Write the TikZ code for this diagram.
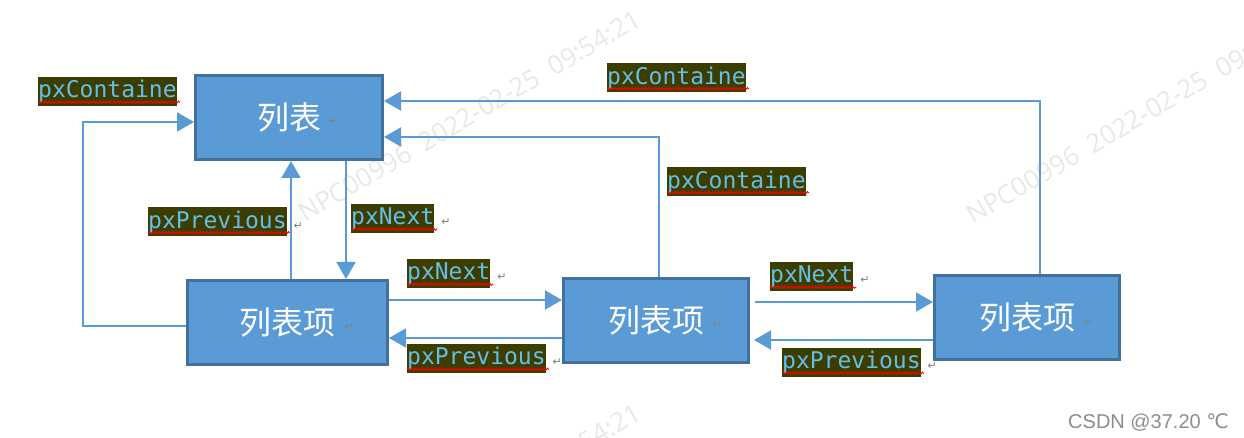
\documentclass[tikz,border=0pt]{standalone}
\usepackage{fontspec}
\usetikzlibrary{arrows.meta,positioning,decorations.pathmorphing}
\newfontfamily\monofnt{DejaVu Sans Mono}
\newfontfamily\cjkfnt{Noto Sans CJK SC}
\newfontfamily\wmfnt{Open Sans}
\newfontfamily\symfnt{DejaVu Sans}
\newfontfamily\csdnfnt{Liberation Sans}
\definecolor{boxfill}{HTML}{5B9BD5}
\definecolor{boxline}{HTML}{41719C}
\definecolor{tagbg}{HTML}{3E3D00}
\definecolor{tagfg}{HTML}{63BFEA}
\newcommand{\retmark}[2]{\rlap{\hspace{#1}\raisebox{#2}{\symfnt\fontsize{11}{11}\selectfont\color{gray}↵}}}

\begin{document}
\begin{tikzpicture}[
  x=1pt, y=-1pt,
  box/.style={draw=boxline, line width=3pt, fill=boxfill, text=white, inner sep=0pt,
              minimum height=84pt, font=\cjkfnt\fontsize{32}{32}\selectfont},
  tag/.style={fill=tagbg, text=tagfg, inner sep=0pt, minimum height=29pt, anchor=west,
              font=\monofnt\fontsize{23}{23}\selectfont},
  conn/.style={-{Triangle[length=17pt,width=19pt]}, draw=boxfill, line width=2pt},
  wavy/.style={draw=red, line width=0.9pt, decorate,
               decoration={snake, amplitude=1.1pt, segment length=3.4pt}},
  wm/.style={text=black!9, rotate=30.4, anchor=base west, inner sep=0pt,
             font=\wmfnt\fontsize{26}{26}\selectfont},
  csdn/.style={text=black!45, inner sep=0pt, anchor=base east,
               font=\csdnfnt\fontsize{20}{20}\selectfont}
]
\useasboundingbox (0,0) rectangle (1244,438);

\begin{scope}
\clip (0,0) rectangle (1244,438);
\node[wm] (wmA) at (305,223) {NPC00996\ \ 2022-02-25\ \ 09:54:21};
\node[wm] (wmB) at (973,225) {NPC00996\ \ 2022-02-25\ \ 09:54:21};
\node[wm] (wmC) at (305,617) {NPC00996\ \ 2022-02-25\ \ 09:54:21};
\end{scope}

\node[box, minimum width=187pt] (lst)   at (289,117.5) {列表\retmark{8pt}{5pt}};
\node[box, minimum width=200pt] (item1) at (287.5,322.5) {列表项\retmark{9pt}{4pt}};
\node[box, minimum width=185pt] (item2) at (656,320.5) {列表项\retmark{9pt}{4pt}};
\node[box, minimum width=185pt] (item3) at (1027,317) {列表项\retmark{9pt}{4pt}};

\node[tag] (cont0) at (38,91.5)  {pxContaine};
\node[tag] (prev0) at (148,222)  {pxPrevious\retmark{7pt}{-1pt}};
\node[tag] (next0) at (351,218.5) {pxNext\retmark{7pt}{-1pt}};
\node[tag] (next1) at (407,273.5) {pxNext\retmark{7pt}{-1pt}};
\node[tag] (prev1) at (407,358.5) {pxPrevious\retmark{7pt}{-1pt}};
\node[tag] (next2) at (770,276.5) {pxNext\retmark{7pt}{-1pt}};
\node[tag] (prev2) at (782,362.5) {pxPrevious\retmark{7pt}{-1pt}};
\node[tag] (cont1) at (607,78)   {pxContaine};
\node[tag] (cont2) at (667,182)  {pxContaine};
\foreach \t in {cont0,prev0,next0,next1,prev1,next2,prev2,cont1,cont2}
  \draw[wavy] ([yshift=4pt]\t.south west) -- ([xshift=3pt,yshift=4pt]\t.south east);

\node[csdn] (csdn) at (1229,428) {CSDN @37.20 {\symfnt ℃}};

\coordinate (xLoop) at (83,0);
\coordinate (xUp)   at (291,0);
\coordinate (xDown) at (346,0);
\coordinate (xC1)   at (659,0);
\coordinate (xC2)   at (1040,0);
\coordinate (yLoopA) at (0,326);
\coordinate (yLoopB) at (0,122);
\coordinate (yN1) at (0,300);
\coordinate (yP1) at (0,338);
\coordinate (yN2) at (0,302);
\coordinate (yP2) at (0,340);
\coordinate (yC1) at (0,137);
\coordinate (yC2) at (0,101);

\draw[conn] (item1.west |- yLoopA) -| (xLoop |- yLoopB) -- (lst.west |- yLoopB);
\draw[conn] (item1.north -| xUp) -- (lst.south -| xUp);
\draw[conn] (lst.south -| xDown) -- (item1.north -| xDown);
\draw[conn] (item1.east |- yN1) -- (item2.west |- yN1);
\draw[conn] (item2.west |- yP1) -- (item1.east |- yP1);
\draw[conn, shorten <=5pt] (item2.east |- yN2) -- (item3.west |- yN2);
\draw[conn, shorten >=4pt] (item3.west |- yP2) -- (item2.east |- yP2);
\draw[conn] (item2.north -| xC1) |- (lst.east |- yC1);
\draw[conn] (item3.north -| xC2) |- (lst.east |- yC2);
\end{tikzpicture}
\end{document}
